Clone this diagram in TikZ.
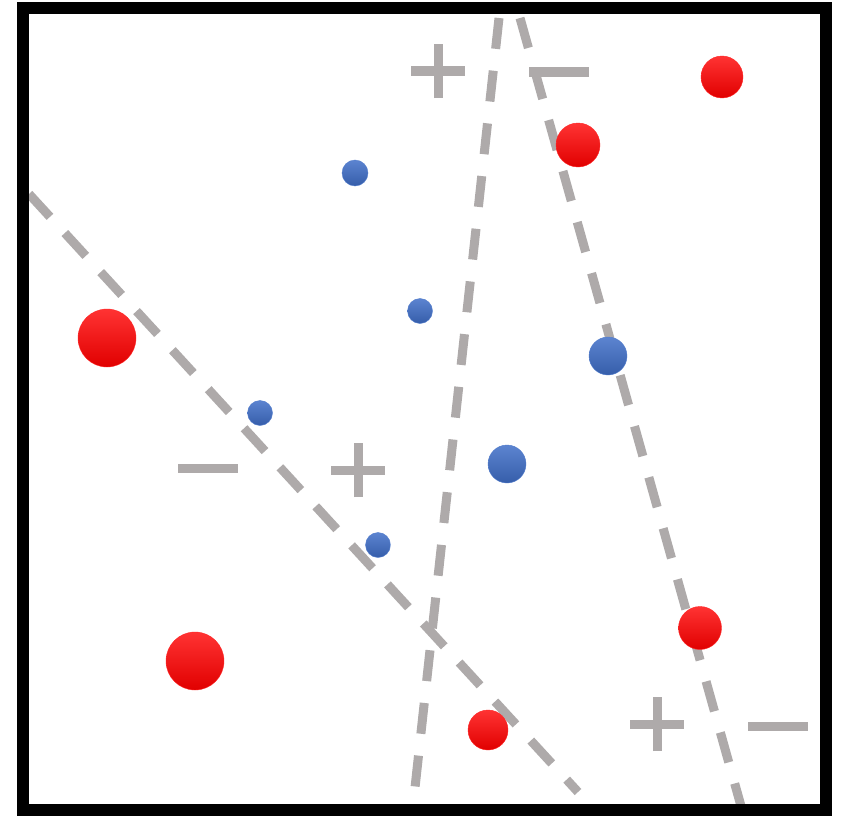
\documentclass[tikz,border=0pt]{standalone}
\begin{document}
\begin{tikzpicture}[x=1pt,y=-1pt,
  sep/.style={draw=sepgray,line width=9pt,dash pattern=on 31pt off 22pt},
  sign/.style={draw=sepgray,line width=9pt},
  redball/.style={circle,inner sep=0pt,top color=red!80!white,middle color=red,bottom color=red!88!black,draw=red!85!white,line width=0.4pt},
  blueball/.style={circle,inner sep=0pt,top color=blueb!85!white,bottom color=blueb!85!black,draw=blueb!90!white,line width=0.4pt}]
\definecolor{sepgray}{RGB}{174,170,170}
\definecolor{blueb}{RGB}{63,110,200}
\useasboundingbox (0,0) rectangle (843,816);
\fill[white] (0,0) rectangle (843,816);
% separating lines
\coordinate (l1a) at (29,194); \coordinate (l1b) at (578,792);
\coordinate (l2a) at (499,18); \coordinate (l2b) at (413,806);
\coordinate (l3a) at (520,18); \coordinate (l3b) at (741,806);
\draw[sep] (l1a) -- (l1b);
\draw[sep] (l2a) -- (l2b);
\draw[sep] (l3a) -- (l3b);
% signs
\coordinate (p1) at (438,71); \coordinate (m1) at (559,72);
\coordinate (m2) at (208,468); \coordinate (p2) at (358,470);
\coordinate (p3) at (657,724); \coordinate (m3) at (778,726);
\draw[sign] ([xshift=-27pt]p1) -- ([xshift=27pt]p1) ([yshift=-27pt]p1) -- ([yshift=27pt]p1);
\draw[sign] ([xshift=-27pt]p2) -- ([xshift=27pt]p2) ([yshift=-27pt]p2) -- ([yshift=27pt]p2);
\draw[sign] ([xshift=-27pt]p3) -- ([xshift=27pt]p3) ([yshift=-27pt]p3) -- ([yshift=27pt]p3);
\draw[sign] ([xshift=-30pt]m1) -- ([xshift=30pt]m1);
\draw[sign] ([xshift=-30pt]m2) -- ([xshift=30pt]m2);
\draw[sign] ([xshift=-30pt]m3) -- ([xshift=30pt]m3);
% red points
\node[redball,minimum size=42pt] (r1) at (722,77) {};
\node[redball,minimum size=44pt] (r2) at (578,145) {};
\node[redball,minimum size=58pt] (r3) at (107,338) {};
\node[redball,minimum size=58pt] (r4) at (195,661) {};
\node[redball,minimum size=43pt] (r5) at (700,628) {};
\node[redball,minimum size=40pt] (r6) at (488,730) {};
% blue points
\node[blueball,minimum size=26pt] (b1) at (355,173) {};
\node[blueball,minimum size=25pt] (b2) at (420,311) {};
\node[blueball,minimum size=38pt] (b3) at (608,356) {};
\node[blueball,minimum size=25pt] (b4) at (260,413) {};
\node[blueball,minimum size=38pt] (b5) at (507,464) {};
\node[blueball,minimum size=25pt] (b6) at (378,545) {};
% frame
\draw[line width=12pt,black] (23,8) rectangle (826,810);
\end{tikzpicture}
\end{document}
